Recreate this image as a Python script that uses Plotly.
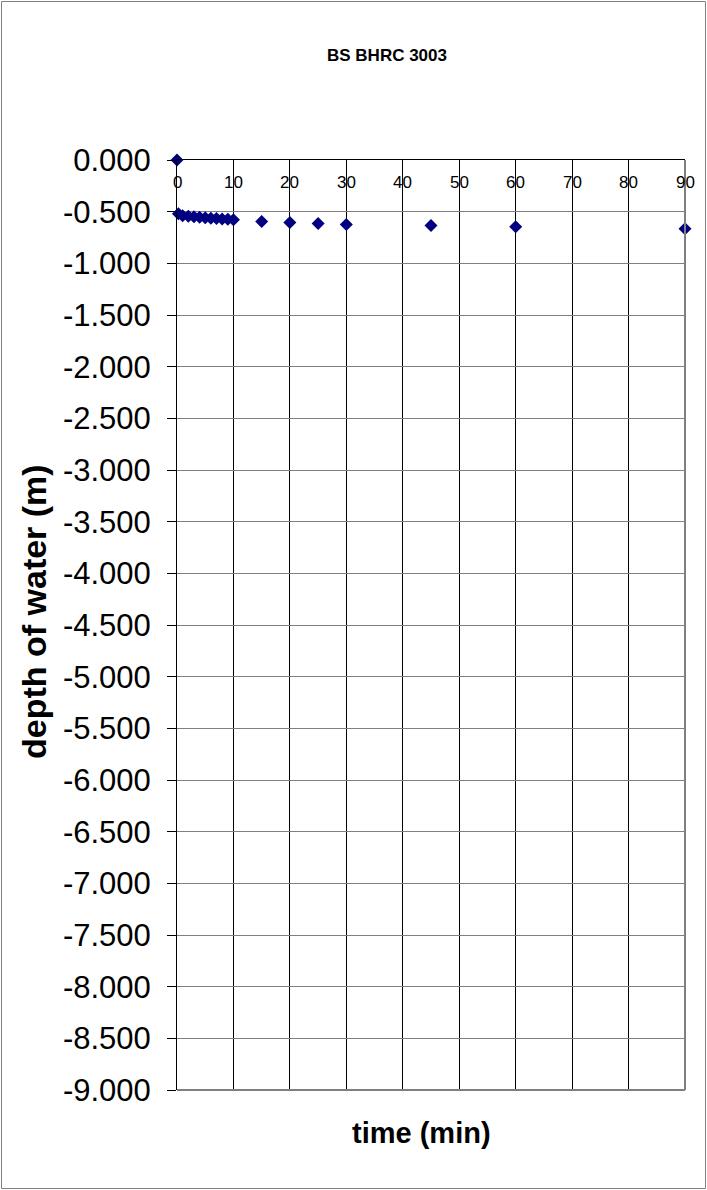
import plotly.graph_objects as go

# Data
time_min = [0, 0.25, 1, 2, 3, 4, 5, 6, 7, 8, 9, 10, 15, 20, 25, 30, 45, 60, 90]
depth_m = [0.000, -0.520, -0.540, -0.545, -0.550, -0.555, -0.560, -0.563, -0.566, -0.570, -0.573, -0.578,
           -0.595, -0.605, -0.615, -0.625, -0.635, -0.645, -0.665]

x_ticks = [0, 10, 20, 30, 40, 50, 60, 70, 80, 90]
y_ticks = [-9.0 + 0.5 * i for i in range(19)]
y_tick_labels = [f"{v:.3f}" for v in y_ticks]

title_text = "BS BHRC 3003"
x_title = "time (min)"
y_title = "depth of water (m)"

W, H = 707, 1190
L, R, T, B = 177, 685, 160, 1090

FONT = "Arial, Liberation Sans, sans-serif"


def px(xw):
    return (xw - L) / (R - L)


def py(yw):
    return (B - yw) / (B - T)


fig = go.Figure()
fig.add_trace(go.Scatter(
    x=time_min, y=depth_m, mode="markers",
    marker=dict(symbol="diamond", color="#000080", size=10, line=dict(width=0)),
    cliponaxis=False, showlegend=False,
))

annotations = [
    dict(text=f"<b>{title_text}</b>", xref="paper", yref="paper",
         x=px(387), y=py(55), xanchor="center", yanchor="middle", showarrow=False,
         font=dict(size=17, family=FONT)),
    dict(text=f"<b>{x_title}</b>", xref="paper", yref="paper",
         x=px(421), y=py(1133), xanchor="center", yanchor="middle", showarrow=False,
         font=dict(size=29, family=FONT)),
    dict(text=f"<b>{y_title}</b>", xref="paper", yref="paper",
         x=px(34), y=py(612), xanchor="center", yanchor="middle", showarrow=False,
         textangle=-90, font=dict(size=34, family=FONT)),
]
# x tick labels sit just below the top (y = 0) axis line
for v in x_ticks:
    annotations.append(dict(
        text=str(v), xref="x", yref="paper", x=v, y=py(182),
        xanchor="center", yanchor="middle", showarrow=False,
        font=dict(size=17, family=FONT, color="black")))

fig.update_layout(
    width=W, height=H,
    margin=dict(l=L, r=W - R, t=T, b=H - B, pad=0),
    paper_bgcolor="white", plot_bgcolor="white",
    font=dict(family=FONT, color="black"),
    xaxis=dict(
        range=[0, 90], side="top", tickvals=x_ticks, showticklabels=False, ticks="",
        showgrid=True, gridcolor="#000000", gridwidth=1,
        showline=True, linecolor="#000000", linewidth=1,
        zeroline=False, fixedrange=True,
    ),
    yaxis=dict(
        range=[-9, 0], tickvals=y_ticks, ticktext=y_tick_labels,
        ticks="outside", ticklen=9, tickcolor="#000000", tickwidth=1,
        tickfont=dict(size=31, family=FONT), ticklabelstandoff=10,
        showgrid=True, gridcolor="#808080", gridwidth=1,
        showline=True, linecolor="#000000", linewidth=1,
        zeroline=False, fixedrange=True,
    ),
    shapes=[
        dict(type="line", xref="paper", yref="paper", x0=1, x1=1, y0=0, y1=1,
             line=dict(color="#808080", width=2)),
        dict(type="line", xref="paper", yref="paper", x0=0, x1=1, y0=0, y1=0,
             line=dict(color="#808080", width=2)),
        dict(type="rect", xref="paper", yref="paper",
             x0=px(1.5), x1=px(W - 1.5), y0=py(H - 1.5), y1=py(1.5),
             line=dict(color="#808080", width=1), layer="below"),
    ],
    annotations=annotations,
)

fig.write_html("out.html", config={"displayModeBar": False},
               post_script="document.body.style.margin='0px';")
